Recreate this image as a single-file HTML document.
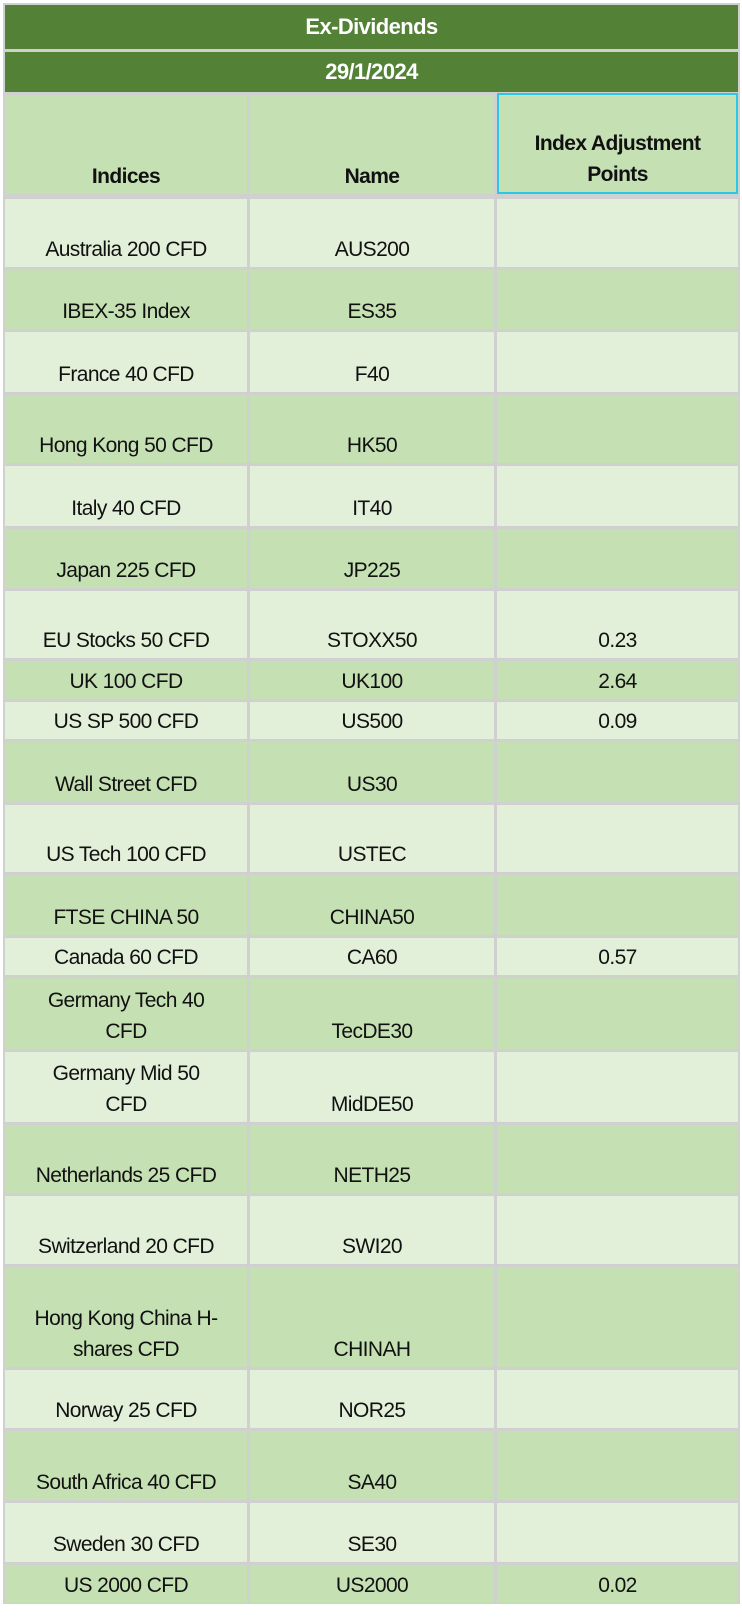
<!DOCTYPE html>
<html><head><meta charset="utf-8"><style>
body{margin:0;width:742px;height:1617px;background:#fff;position:relative;overflow:hidden;font-family:"Liberation Sans",sans-serif;}
.c{position:absolute;box-sizing:border-box;display:flex;align-items:flex-end;justify-content:center;text-align:center;font-size:21px;letter-spacing:-0.6px;color:#111;line-height:31px;padding-bottom:2px}
.t{background:#538135;color:#fff;font-weight:bold;align-items:center;font-size:22px}
.h{background:#c5e0b3;font-weight:bold}
</style></head><body>
<div id="tbl" style="position:absolute;left:3px;top:3px;width:737px;height:1601px;background:#d0d0d0"></div>
<script>
const indices=["Australia 200 CFD","IBEX-35 Index","France 40 CFD","Hong Kong 50 CFD","Italy 40 CFD","Japan 225 CFD","EU Stocks 50 CFD","UK 100 CFD","US SP 500 CFD","Wall Street CFD","US Tech 100 CFD","FTSE CHINA 50","Canada 60 CFD","Germany Tech 40 CFD","Germany Mid 50 CFD","Netherlands 25 CFD","Switzerland 20 CFD","Hong Kong China H-shares CFD","Norway 25 CFD","South Africa 40 CFD","Sweden 30 CFD","US 2000 CFD"];
const names=["AUS200","ES35","F40","HK50","IT40","JP225","STOXX50","UK100","US500","US30","USTEC","CHINA50","CA60","TecDE30","MidDE50","NETH25","SWI20","CHINAH","NOR25","SA40","SE30","US2000"];
const points=["","","","","","","0.23","2.64","0.09","","","","0.57","","","","","","","","","0.02"];
const rowEdges=[196,267,329,392,463,526,588,658,699,739,802,872,935,975,1049,1122,1193,1264,1367,1428,1500,1562,1603];
const cols=[[5,242],[250,244],[497,241]];
function cell(x,y,w,h,cls,txt,name,bg){
 const d=document.createElement('div');d.className='c '+cls;
 d.style.cssText+=`left:${x}px;top:${y}px;width:${w}px;height:${h}px;`+(bg?`background:${bg};`:'');
 d.innerHTML=txt;
 
 
 document.body.appendChild(d);return d;}
cell(5,5,733,44,'t','Ex-Dividends','title');
cell(5,52,733,40,'t','29/1/2024','date');
cell(5,95,242,99,'h','Indices','header-indices');
cell(250,95,244,99,'h','Name','header-name');
const hp=cell(497,93,241,101,'h','Index Adjustment<br>Points','header-adjustment-points');
hp.style.border='2px solid #29c8e6';
for(let i=0;i<indices.length;i++){
 const y=rowEdges[i]+3,h=rowEdges[i+1]-rowEdges[i]-3;
 const bg=i%2?'#c5e0b3':'#e2efd9';
 const t=indices[i].replace('Tech 40 CFD','Tech 40<br>CFD').replace('Mid 50 CFD','Mid 50<br>CFD').replace('China H-shares','China H-<br>shares');
 cell(cols[0][0],y,cols[0][1],h,'',t,'indices-cell',bg);
 cell(cols[1][0],y,cols[1][1],h,'',names[i],'name-cell',bg);
 cell(cols[2][0],y,cols[2][1],h,'',points[i],'points-cell',bg);
}
</script>
</body></html>
